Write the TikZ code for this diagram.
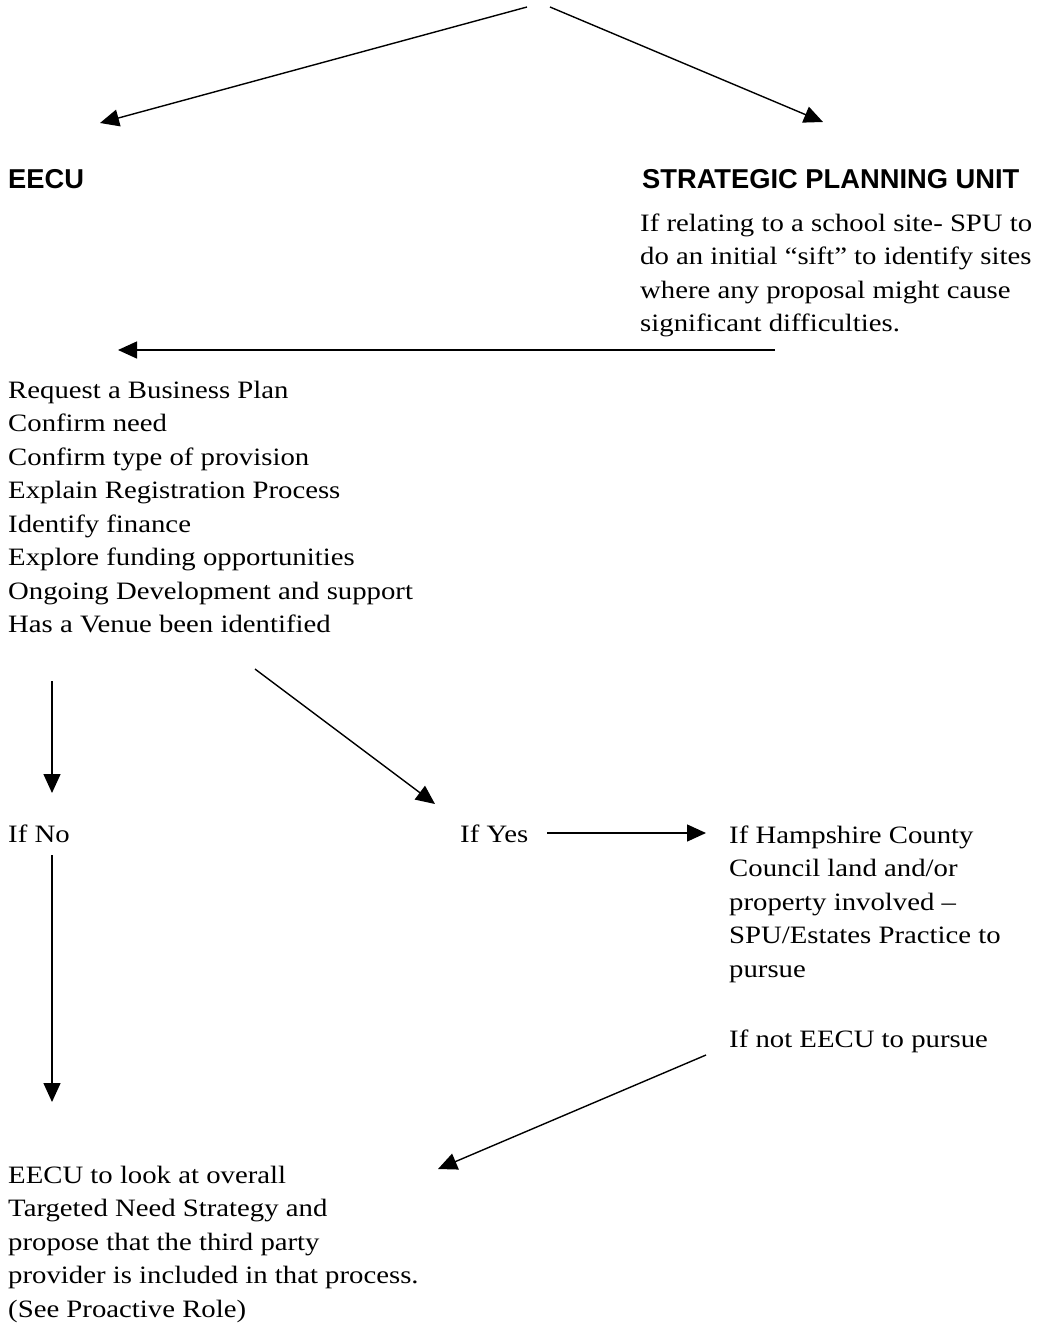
\documentclass[tikz,border=0pt]{standalone}
\usepackage{fontspec}
\setmainfont[FakeStretch=1.15]{Liberation Serif}
\newfontfamily\headfont{Liberation Sans}
\usetikzlibrary{arrows.meta}
\newcommand{\blk}[1]{\begin{tabular}[t]{@{}l@{}}#1\end{tabular}}
\begin{document}
\begin{tikzpicture}[x=1pt,y=-1pt,
  txt/.style={inner sep=0pt,anchor=base west,font=\fontsize{25}{33.5}\selectfont},
  head/.style={inner sep=0pt,anchor=base west,font=\headfont\bfseries\fontsize{27.3}{32}\selectfont},
  arr/.style={line width=1.4pt,-{Triangle[length=19pt,width=17pt]}}]
\useasboundingbox (0,0) rectangle (1040,1325);
% headings
\node[head] (eecu) at (8,188) {EECU};
\node[head] (spu) at (642,188) {STRATEGIC PLANNING UNIT};
\node[txt] (sputext) at (640,231) {\blk{If relating to a school site- SPU to\\do an initial “sift” to identify sites\\where any proposal might cause\\significant difficulties.}};
\node[txt] (list) at (8,398) {\blk{Request a Business Plan\\Confirm need\\Confirm type of provision\\Explain Registration Process\\Identify finance\\Explore funding opportunities\\Ongoing Development and support\\Has a Venue been identified}};
\node[txt] (ifno) at (8,842) {If No};
\node[txt] (ifyes) at (460,842) {If Yes};
\node[txt] (hamp) at (729,843) {\blk{If Hampshire County\\Council land and/or\\property involved –\\SPU/Estates Practice to\\pursue}};
\node[txt] (ifnot) at (729,1047) {If not EECU to pursue};
\node[txt] (final) at (8,1183) {\blk{EECU to look at overall\\Targeted Need Strategy and\\propose that the third party\\provider is included in that process.\\(See Proactive Role)}};
% connector ends
\coordinate (top1) at (527,7);
\coordinate (top2) at (550,7);
\coordinate (tipL) at (100,123);
\coordinate (tipR) at (823,122);
\coordinate (spuOut) at (775,350);
\coordinate (listIn) at (118,350);
\coordinate (listOutL) at (52,681);
\coordinate (noIn) at (52,793);
\coordinate (listOutR) at (255,669);
\coordinate (yesIn) at (435,804);
\coordinate (yesOut) at (547,833);
\coordinate (hampIn) at (706,833);
\coordinate (noOut) at (52,855);
\coordinate (noEnd) at (52,1102);
\coordinate (notOut) at (706,1055);
\coordinate (finalIn) at (438,1169);
\draw[arr] (top1) -- (tipL);
\draw[arr] (top2) -- (tipR);
\draw[arr] (spuOut) -- (listIn);
\draw[arr] (listOutL) -- (noIn);
\draw[arr] (listOutR) -- (yesIn);
\draw[arr] (yesOut) -- (hampIn);
\draw[arr] (noOut) -- (noEnd);
\draw[arr] (notOut) -- (finalIn);
\end{tikzpicture}
\end{document}
